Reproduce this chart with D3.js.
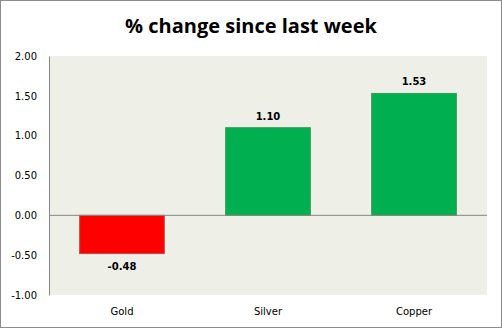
<!DOCTYPE html>
<html>
<head>
<meta charset="utf-8">
<script src="https://cdn.jsdelivr.net/npm/d3@7"></script>
<style>
  html, body { margin: 0; padding: 0; background: #fff; }
  svg { display: block; }
</style>
</head>
<body>
<svg id="chart" width="502" height="328"></svg>
<script>
// Weekly percentage change by metal
const categories = ["Gold", "Silver", "Copper"];
const changes = [-0.48, 1.10, 1.53];
const tickValues = [-1.00, -0.50, 0.00, 0.50, 1.00, 1.50, 2.00];
const chartTitle = "% change since last week";

const W = 502, H = 328;
const plot = { left: 49, right: 487, top: 56, bottom: 295 };

// plain hyphen for negative numbers
const locale = d3.formatLocale({ decimal: ".", thousands: ",", grouping: [3], currency: ["", ""], minus: "-" });
const fmt = locale.format(".2f");

const svg = d3.select("#chart");

// outer frame
svg.append("rect")
  .attr("x", 0.5).attr("y", 0.5)
  .attr("width", W - 1).attr("height", H - 1)
  .attr("fill", "#fff")
  .attr("stroke", "#8c8c8c");

// title
svg.append("text")
  .attr("x", W / 2).attr("y", 33)
  .attr("text-anchor", "middle")
  .style("font-family", "'Open Sans', sans-serif")
  .style("font-weight", "bold")
  .style("font-size", "20px")
  .attr("fill", "#000")
  .text(chartTitle);

const x = d3.scaleBand()
  .domain(categories)
  .range([plot.left, plot.right])
  .paddingInner(0.42)
  .paddingOuter(0.21);

const y = d3.scaleLinear()
  .domain([-1, 2])
  .range([plot.bottom, plot.top]);

// plot background
svg.append("rect")
  .attr("x", plot.left).attr("y", plot.top)
  .attr("width", plot.right - plot.left)
  .attr("height", plot.bottom - plot.top)
  .attr("fill", "#eef0e8");

// y axis
const yAxis = d3.axisLeft(y)
  .tickValues(tickValues)
  .tickSize(0)
  .tickPadding(12)
  .tickFormat(fmt);

const gy = svg.append("g")
  .attr("transform", `translate(${plot.left},0)`)
  .call(yAxis);
gy.select(".domain").attr("stroke", "#868686");
gy.selectAll("text")
  .style("font-family", "'DejaVu Sans', Verdana, sans-serif")
  .style("font-size", "10px")
  .attr("fill", "#000");

const rows = categories.map((c, i) => ({ c, v: changes[i] }));

// bars
svg.append("g").selectAll("rect")
  .data(rows)
  .join("rect")
  .attr("x", d => x(d.c))
  .attr("width", x.bandwidth())
  .attr("y", d => y(Math.max(0, d.v)))
  .attr("height", d => Math.abs(y(d.v) - y(0)))
  .attr("fill", d => d.v < 0 ? "#ff0000" : "#00b050")
  .attr("stroke", d => d.v < 0 ? "#be4b48" : "#3a9a55")
  .attr("stroke-width", 1);

// zero line
svg.append("line")
  .attr("x1", plot.left).attr("x2", plot.right)
  .attr("y1", y(0)).attr("y2", y(0))
  .attr("stroke", "#868686");

// value labels
svg.append("g").selectAll("text")
  .data(rows)
  .join("text")
  .attr("x", d => x(d.c) + x.bandwidth() / 2)
  .attr("y", d => d.v < 0 ? y(d.v) + 16 : y(d.v) - 8)
  .attr("text-anchor", "middle")
  .style("font-family", "'DejaVu Sans', Verdana, sans-serif")
  .style("font-weight", "bold")
  .style("font-size", "10px")
  .attr("fill", "#000")
  .text(d => fmt(d.v));

// category labels
svg.append("g").selectAll("text")
  .data(categories)
  .join("text")
  .attr("x", d => x(d) + x.bandwidth() / 2)
  .attr("y", 315)
  .attr("text-anchor", "middle")
  .style("font-family", "'DejaVu Sans', Verdana, sans-serif")
  .style("font-size", "10px")
  .attr("fill", "#000")
  .text(d => d);
</script>
</body>
</html>
